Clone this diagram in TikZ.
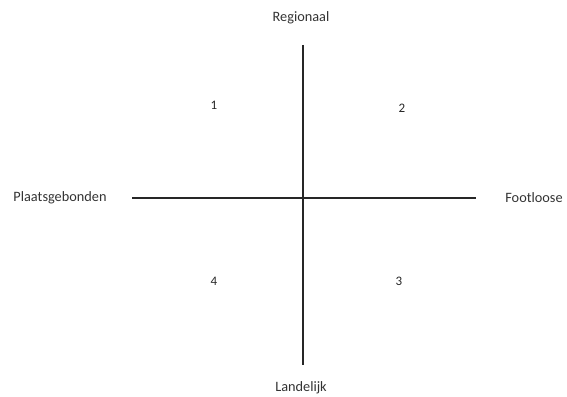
\documentclass[tikz,border=0pt]{standalone}
\usepackage{fontspec}
\setmainfont{Carlito}
\begin{document}
\begin{tikzpicture}[x=1pt,y=-1pt,
  axis/.style={line width=1.6pt,draw=black!85},
  lbl/.style={font=\fontsize{14.3}{16}\selectfont,text=black!80,inner sep=0pt},
  num/.style={font=\fontsize{13}{15}\selectfont,text=black!85,inner sep=0pt}]
\useasboundingbox (0,0) rectangle (567,396);
\coordinate (top) at (303,45);
\coordinate (bot) at (303,365);
\coordinate (left) at (132,198);
\coordinate (right) at (476,198);
\draw[axis] (top) -- (bot);
\draw[axis] (left) -- (right);
\node[lbl] (reg) at (301,18) {Regionaal};
\node[lbl] (lan) at (301,388) {Landelijk};
\node[lbl] (pla) at (60,198) {Plaatsgebonden};
\node[lbl] (foo) at (534,198) {Footloose};
\node[num] (n1) at (214,105) {1};
\node[num] (n2) at (402,108) {2};
\node[num] (n3) at (399,281) {3};
\node[num] (n4) at (214,281) {4};
\end{tikzpicture}
\end{document}
